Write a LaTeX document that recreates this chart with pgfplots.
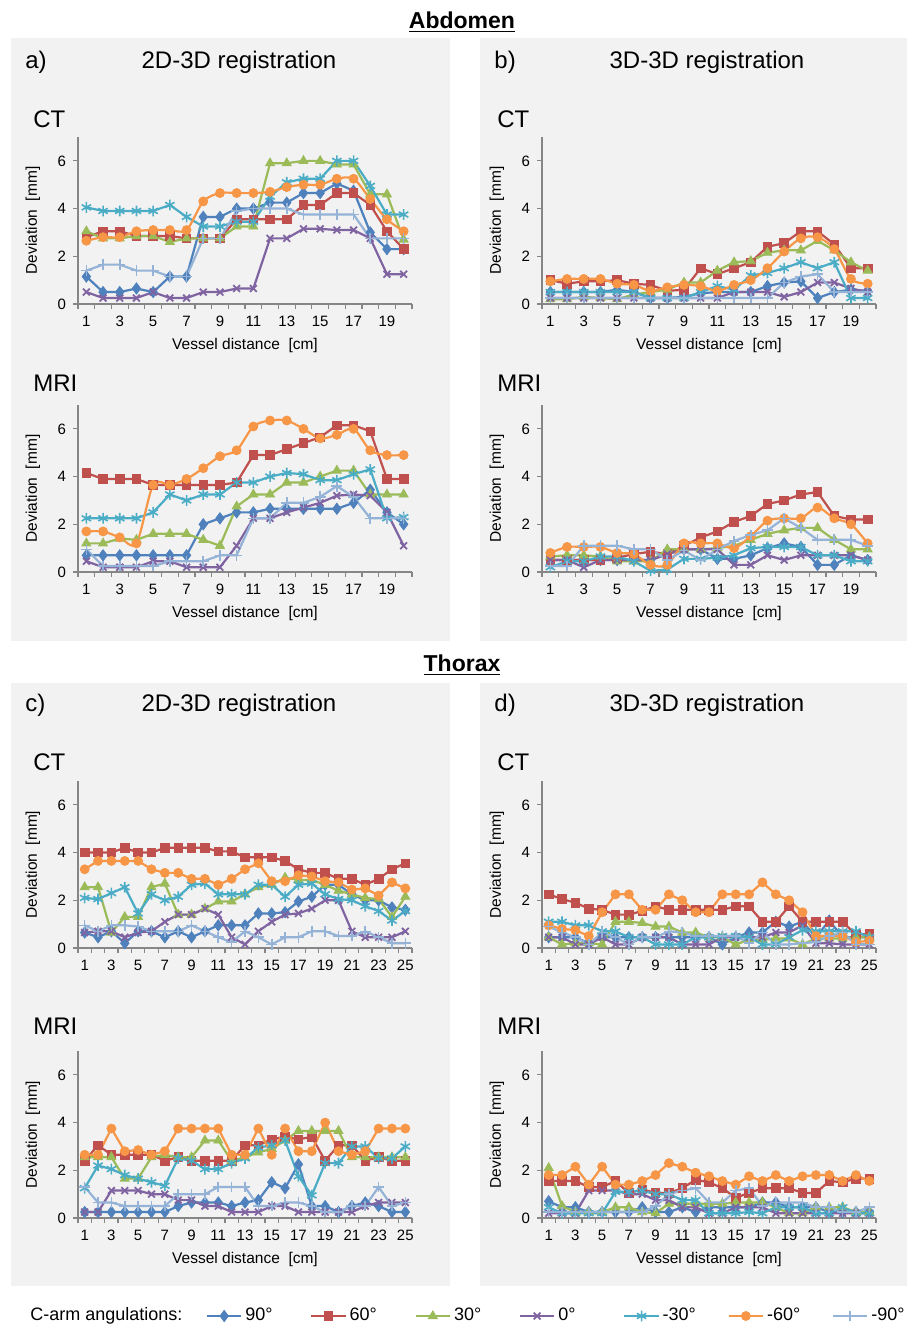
\documentclass[border=0pt]{standalone}
\usepackage{pgfplots}
\pgfplotsset{compat=1.18}
\usepackage{pgfplotstable}
\usepackage{fontspec}
\setmainfont{Liberation Sans}

\definecolor{c90}{HTML}{4F81BD}
\definecolor{c60}{HTML}{C0504D}
\definecolor{c30}{HTML}{9BBB59}
\definecolor{c0}{HTML}{8064A2}
\definecolor{cm30}{HTML}{4BACC6}
\definecolor{cm60}{HTML}{F79646}
\definecolor{cm90}{HTML}{95B3D7}
\definecolor{panel}{HTML}{F2F2F2}
\definecolor{axgray}{HTML}{868686}

% ---------------- data ----------------
\pgfplotstableread{
x d90 d60 d30 d0 m30 m60 m90
1 1.15 2.80 3.05 0.50 4.05 2.65 1.40
2 0.50 3.05 2.75 0.25 3.90 2.80 1.65
3 0.50 3.05 2.75 0.25 3.90 2.80 1.65
4 0.65 2.85 2.85 0.25 3.90 3.05 1.40
5 0.50 2.85 2.85 0.50 3.90 3.10 1.40
6 1.15 2.85 2.60 0.25 4.15 3.10 1.15
7 1.15 2.75 2.75 0.25 3.65 3.10 1.15
8 3.65 2.75 2.75 0.50 3.25 4.30 2.75
9 3.65 2.75 2.75 0.50 3.25 4.65 2.75
10 4.00 3.55 3.25 0.65 3.45 4.65 3.90
11 4.00 3.55 3.25 0.65 3.45 4.65 4.00
12 4.25 3.55 5.90 2.75 4.50 4.70 4.00
13 4.25 3.55 5.90 2.75 5.10 4.90 4.00
14 4.65 4.15 6.00 3.15 5.25 5.00 3.75
15 4.65 4.15 6.00 3.15 5.25 5.00 3.75
16 5.05 4.65 5.85 3.10 6.00 5.25 3.75
17 4.75 4.65 5.85 3.10 6.00 5.25 3.75
18 3.00 4.15 4.60 2.75 4.95 4.40 2.75
19 2.30 3.05 4.60 1.25 3.75 3.55 2.75
20 2.30 2.30 2.70 1.25 3.75 3.05 2.75
}\aCT

\pgfplotstableread{
x d90 d60 d30 d0 m30 m60 m90
1 0.70 4.15 1.20 0.45 2.25 1.70 0.95
2 0.70 3.90 1.20 0.20 2.25 1.70 0.25
3 0.70 3.90 1.40 0.20 2.25 1.45 0.25
4 0.70 3.90 1.35 0.20 2.25 1.20 0.25
5 0.70 3.65 1.60 0.45 2.50 3.65 0.25
6 0.70 3.65 1.60 0.45 3.25 3.65 0.45
7 0.70 3.65 1.60 0.20 3.00 3.90 0.45
8 2.00 3.65 1.35 0.20 3.25 4.35 0.45
9 2.25 3.65 1.10 0.20 3.25 4.85 0.70
10 2.50 3.75 2.75 1.10 3.75 5.10 0.70
11 2.50 4.90 3.25 2.25 3.75 6.10 2.25
12 2.65 4.90 3.25 2.25 4.00 6.35 2.25
13 2.65 5.15 3.75 2.50 4.15 6.35 2.90
14 2.65 5.40 3.75 2.70 4.10 6.00 2.90
15 2.65 5.65 4.00 2.90 3.85 5.60 3.15
16 2.65 6.15 4.25 3.20 3.85 5.75 3.60
17 2.90 6.15 4.25 3.25 4.10 6.00 3.15
18 3.45 5.90 3.25 3.20 4.30 5.10 2.25
19 2.50 3.90 3.25 2.50 2.25 4.90 2.25
20 2.00 3.90 3.25 1.10 2.30 4.90 2.25
}\aMR

\pgfplotstableread{
x d90 d60 d30 d0 m30 m60 m90
1 0.50 1.00 0.20 0.25 0.50 0.95 0.25
2 0.50 0.85 0.20 0.25 0.50 1.05 0.25
3 0.50 0.95 0.30 0.25 0.50 1.05 0.25
4 0.50 0.95 0.25 0.25 0.50 1.05 0.25
5 0.60 1.00 0.20 0.25 0.50 0.85 0.25
6 0.50 0.85 0.40 0.25 0.50 0.80 0.25
7 0.25 0.80 0.50 0.25 0.25 0.55 0.25
8 0.25 0.55 0.60 0.25 0.25 0.70 0.25
9 0.30 0.60 0.90 0.25 0.25 0.80 0.25
10 0.45 1.50 0.90 0.25 0.50 0.75 0.25
11 0.50 1.25 1.40 0.25 0.75 0.55 0.25
12 0.50 1.50 1.75 0.50 0.60 0.80 0.25
13 0.50 1.75 1.80 0.50 1.20 1.00 0.25
14 0.75 2.40 2.15 0.50 1.30 1.50 0.25
15 0.90 2.55 2.25 0.30 1.50 2.20 0.90
16 0.95 3.05 2.25 0.50 1.75 2.75 1.15
17 0.25 3.05 2.65 0.90 1.50 2.80 1.25
18 0.50 2.50 2.25 0.90 1.75 2.30 0.50
19 0.60 1.50 1.75 0.65 0.25 1.05 0.50
20 0.55 1.50 1.40 0.50 0.25 0.85 0.50
}\bCT

\pgfplotstableread{
x d90 d60 d30 d0 m30 m60 m90
1 0.50 0.50 0.65 0.50 0.20 0.80 0.25
2 0.50 0.50 0.70 0.50 0.45 1.05 0.25
3 0.50 0.50 0.70 0.20 0.45 1.05 1.10
4 0.50 0.50 0.65 0.50 0.65 1.05 1.10
5 0.50 0.60 0.45 0.50 0.65 0.80 1.10
6 0.50 0.75 0.45 0.50 0.45 0.75 0.95
7 0.50 0.85 0.45 0.50 0.05 0.30 0.95
8 0.75 0.75 0.95 0.75 0.10 0.30 0.50
9 0.95 1.10 0.95 0.95 0.55 1.20 0.90
10 0.95 1.45 0.95 0.95 0.55 1.20 0.50
11 0.55 1.70 1.00 0.95 0.60 1.20 0.95
12 0.55 2.10 1.10 0.30 0.70 1.00 1.30
13 0.70 2.35 1.35 0.30 1.00 1.50 1.55
14 1.00 2.85 1.60 0.70 1.05 2.15 1.75
15 1.20 3.00 1.75 0.50 1.05 2.25 2.25
16 1.05 3.25 1.85 0.70 1.05 2.25 1.85
17 0.30 3.35 1.85 0.70 0.70 2.70 1.35
18 0.30 2.35 1.35 0.70 0.70 2.25 1.35
19 0.70 2.20 0.95 0.70 0.45 2.00 1.35
20 0.50 2.20 0.95 0.50 0.45 1.20 1.10
}\bMR

\pgfplotstableread{
x d90 d60 d30 d0 m30 m60 m90
1 0.65 4.00 2.55 0.65 2.10 3.30 0.95
2 0.45 4.00 2.55 0.70 2.05 3.65 0.70
3 0.70 4.00 0.65 0.70 2.30 3.65 0.95
4 0.20 4.20 1.30 0.45 2.55 3.65 0.95
5 0.70 4.00 1.30 0.65 1.45 3.65 0.90
6 0.70 4.00 2.55 0.70 2.25 3.30 0.70
7 0.45 4.20 2.70 1.10 2.00 3.15 0.70
8 0.70 4.20 1.40 1.40 2.15 3.15 0.70
9 0.45 4.20 1.40 1.40 2.65 2.90 0.95
10 0.70 4.20 1.65 1.65 2.70 2.90 0.70
11 0.95 4.05 1.95 1.40 2.25 2.65 0.45
12 0.95 4.05 1.95 0.45 2.25 2.90 0.25
13 0.95 3.80 2.25 0.15 2.25 3.30 0.70
14 1.45 3.80 2.55 0.70 2.65 3.55 0.45
15 1.45 3.80 2.65 1.10 2.65 2.80 0.15
16 1.50 3.65 2.95 1.40 2.15 2.80 0.45
17 1.95 3.30 2.85 1.45 2.65 3.05 0.45
18 2.15 3.15 2.85 1.65 2.70 3.00 0.70
19 2.65 3.15 2.65 2.00 2.25 2.80 0.70
20 2.65 2.90 2.40 2.00 2.05 2.75 0.50
21 2.25 2.90 2.25 0.70 2.00 2.45 0.50
22 2.00 2.65 2.10 0.45 1.75 2.50 0.70
23 2.00 2.90 2.05 0.45 1.55 2.20 0.45
24 1.70 3.30 1.30 0.45 1.15 2.75 0.20
25 1.60 3.55 2.15 0.70 1.55 2.50 0.20
}\cCT

\pgfplotstableread{
x d90 d60 d30 d0 m30 m60 m90
1 0.25 2.40 2.55 0.25 1.25 2.65 1.30
2 0.25 3.05 2.55 0.25 2.20 2.65 0.65
3 0.25 2.65 2.55 1.15 2.05 3.75 0.65
4 0.25 2.65 1.65 1.15 1.80 2.80 0.50
5 0.25 2.65 1.65 1.15 1.65 2.85 0.50
6 0.25 2.65 2.55 1.00 1.50 2.65 0.50
7 0.25 2.40 2.65 1.00 1.35 2.80 0.50
8 0.50 2.55 2.55 0.75 2.50 3.75 1.00
9 0.65 2.40 2.55 0.75 2.40 3.75 1.00
10 0.65 2.40 3.25 0.50 2.05 3.75 1.00
11 0.65 2.40 3.25 0.50 2.05 3.75 1.30
12 0.50 2.40 2.40 0.25 2.30 2.65 1.30
13 0.65 3.05 2.55 0.25 2.50 2.65 1.30
14 0.75 3.05 2.75 0.25 2.95 3.75 0.50
15 1.50 3.30 2.90 0.50 3.05 2.65 0.50
16 1.25 3.40 3.25 0.50 3.25 3.75 0.65
17 2.25 3.30 3.65 0.25 1.75 2.80 0.65
18 0.50 3.40 3.65 0.25 0.95 2.80 0.50
19 0.50 2.40 3.65 0.25 2.30 4.00 0.25
20 0.25 3.05 3.65 0.25 2.30 2.80 0.25
21 0.50 3.05 2.55 0.25 3.00 2.65 0.50
22 0.65 2.40 2.55 0.50 3.00 2.80 0.50
23 0.50 2.55 2.55 0.65 2.50 3.75 1.30
24 0.25 2.40 2.55 0.65 2.50 3.75 0.50
25 0.25 2.40 2.55 0.65 3.00 3.75 0.65
}\cMR

\pgfplotstableread{
x d90 d60 d30 d0 m30 m60 m90
1 0.45 2.25 0.45 0.45 1.10 0.95 0.90
2 0.45 2.05 0.15 0.45 1.10 0.80 0.65
3 0.45 1.90 0.20 0.15 0.95 0.75 0.45
4 0.20 1.65 0.20 0.15 0.95 0.50 0.15
5 0.45 1.60 0.15 0.45 0.70 1.50 0.65
6 0.45 1.40 1.10 0.15 0.70 2.25 0.45
7 0.45 1.40 1.10 0.15 0.45 2.25 0.15
8 0.45 1.55 1.05 0.45 0.45 1.60 0.45
9 0.45 1.75 0.90 0.45 0.15 1.60 0.45
10 0.45 1.60 0.90 0.45 0.15 2.25 0.70
11 0.45 1.60 0.65 0.15 0.15 2.00 0.65
12 0.45 1.60 0.65 0.15 0.45 1.50 0.50
13 0.45 1.60 0.45 0.15 0.45 1.50 0.50
14 0.15 1.60 0.45 0.45 0.50 2.25 0.50
15 0.45 1.75 0.15 0.45 0.50 2.25 0.50
16 0.65 1.75 0.35 0.45 0.45 2.25 0.20
17 0.65 1.10 0.35 0.45 0.15 2.75 0.65
18 1.10 1.10 0.40 0.65 0.15 2.25 0.15
19 0.90 1.75 0.40 0.65 0.45 2.00 0.15
20 1.10 1.10 0.15 0.95 0.75 1.50 0.20
21 0.45 1.10 0.40 0.20 0.70 0.50 0.25
22 1.15 1.10 0.40 0.20 0.70 0.50 0.50
23 0.45 1.10 0.40 0.15 0.70 0.50 0.65
24 0.45 0.55 0.45 0.15 0.70 0.25 0.15
25 0.45 0.60 0.45 0.15 0.45 0.30 0.15
}\dCT

\pgfplotstableread{
x d90 d60 d30 d0 m30 m60 m90
1 0.70 1.55 2.10 0.20 0.45 1.80 0.25
2 0.45 1.55 0.50 0.20 0.20 1.80 0.25
3 0.45 1.55 0.25 0.20 0.20 2.15 0.25
4 0.25 1.30 0.25 1.15 0.20 1.40 0.25
5 0.25 1.30 0.25 1.15 0.20 2.15 0.25
6 0.25 1.55 0.45 1.15 1.10 1.40 0.25
7 0.25 1.05 0.45 1.00 1.10 1.40 0.25
8 0.45 1.20 0.25 1.00 1.15 1.55 0.25
9 0.25 1.05 0.20 0.75 1.00 1.80 0.50
10 0.25 1.05 0.60 0.75 1.00 2.30 1.00
11 0.45 1.25 0.60 0.45 0.75 2.15 1.15
12 0.25 1.60 0.60 0.45 0.75 1.90 1.25
13 0.45 1.50 0.60 0.20 0.20 1.75 0.65
14 0.45 1.25 0.60 0.20 0.20 1.55 0.65
15 0.45 0.85 0.65 0.45 0.20 1.40 1.15
16 0.45 1.05 0.65 0.45 0.25 1.75 1.25
17 0.65 1.25 0.65 0.45 0.20 1.55 0.50
18 0.65 1.25 0.45 0.20 0.45 1.80 0.65
19 0.45 1.25 0.20 0.20 0.45 1.55 0.65
20 0.45 1.05 0.20 0.20 0.45 1.75 0.65
21 0.45 1.05 0.45 0.20 0.20 1.80 0.45
22 0.25 1.55 0.45 0.20 0.20 1.80 0.45
23 0.25 1.50 0.45 0.20 0.45 1.55 0.25
24 0.25 1.65 0.25 0.20 0.20 1.80 0.25
25 0.25 1.65 0.25 0.20 0.20 1.55 0.45
}\dMR

% ---------------- styles ----------------
\pgfplotsset{
  ser/.style={line width=1.1pt},
  s90/.style={ser, c90, mark=diamond*, mark size=2.8pt, mark options={solid, line width=0.4pt, fill=c90}},
  s60/.style={ser, c60, mark=square*, mark size=2.15pt, mark options={solid, line width=0.4pt, fill=c60}},
  s30/.style={ser, c30, mark=triangle*, mark size=2.6pt, mark options={solid, line width=0.4pt, fill=c30}},
  s0/.style={ser, c0, mark=x, mark size=2.4pt, mark options={solid, line width=0.9pt}},
  sm30/.style={ser, cm30, mark=asterisk, mark size=2.7pt, mark options={solid, line width=0.8pt}},
  sm60/.style={ser, cm60, mark=*, mark size=2.25pt, mark options={solid, line width=0.4pt, fill=cm60}},
  sm90/.style={ser, cm90, mark=+, mark size=2.7pt, mark options={solid, line width=0.8pt}},
  dev/.style={
    scale only axis, width=167pt, height=83.5pt,
    anchor=south west,
    xmin=0.5, ymin=0, ymax=7,
    axis x line*=bottom, axis y line*=left,
    axis line style={axgray, line width=0.6pt},
    tick align=outside,
    ytick={0,2,4,6},
    major tick length=2.5pt, minor tick length=2.5pt,
    tick style={axgray, line width=0.6pt},
    major x tick style={draw=none},
    /pgf/number format/assume math mode=true,
    tick label style={font=\fontsize{7.5}{9}\selectfont, text=black},
    ylabel={Deviation\ \ [mm]},
    ylabel style={font=\fontsize{7.75}{9}\selectfont, at={(axis description cs:-0.135,0.5)}, anchor=center},
    clip=false,
  },
  abd/.style={dev, xmax=20.5, xtick={1,3,...,19}, minor xtick={0.5,1.5,...,20.5}},
  tho/.style={dev, xmax=25.5, xtick={1,3,...,25}, minor xtick={0.5,1.5,...,25.5}},
  xl/.style={xlabel={Vessel distance\ \ [cm]},
    xlabel style={font=\fontsize{7.75}{9}\selectfont, at={(axis description cs:0.5,0)}, yshift=-20.5pt, anchor=center}},
}

\newcommand\allseries[2][]{%
  \addplot[s90] table[x=x,y=d90]{#2};
  \addplot[s60] table[x=x,y=d60]{#2};
  \addplot[s30] table[x=x,y=d30]{#2};
  \addplot[s0] table[x=x,y=d0]{#2};
  \addplot[sm30] table[x=x,y=m30]{#2};
  \addplot[sm60,#1] table[x=x,y=m60]{#2};
  \addplot[sm90] table[x=x,y=m90]{#2};
}

\newcommand\ttl{\fontsize{12}{14}\selectfont}

\begin{document}
\begin{tikzpicture}
\path[use as bounding box] (0,0) rectangle (454pt,-663.5pt);

% panels
\fill[panel] (5.5pt,-19pt) rectangle (225pt,-320.5pt);
\fill[panel] (240pt,-19pt) rectangle (453.5pt,-320.5pt);
\fill[panel] (5.5pt,-341.5pt) rectangle (225pt,-643pt);
\fill[panel] (240pt,-341.5pt) rectangle (453.5pt,-643pt);

\node[font=\bfseries\fontsize{11.5}{13}\selectfont] at (231pt,-11pt) {\underline{Abdomen}};
\node[font=\bfseries\fontsize{11.5}{13}\selectfont] at (231pt,-332.5pt) {\underline{Thorax}};

\tikzset{lab/.style={font=\ttl, anchor=west, inner xsep=0pt}}
\node[lab] at (12.5pt,-31pt) {a)};
\node[font=\ttl] at (119.5pt,-31pt) {2D-3D registration};
\node[lab] at (16.5pt,-59.5pt) {CT};
\node[lab] at (16.5pt,-191.5pt) {MRI};

\node[lab] at (247pt,-31pt) {b)};
\node[font=\ttl] at (353.5pt,-31pt) {3D-3D registration};
\node[lab] at (248.5pt,-59.5pt) {CT};
\node[lab] at (248.5pt,-191.5pt) {MRI};

\node[lab] at (12.5pt,-352.5pt) {c)};
\node[font=\ttl] at (119.5pt,-352.5pt) {2D-3D registration};
\node[lab] at (16.5pt,-381pt) {CT};
\node[lab] at (16.5pt,-513pt) {MRI};

\node[lab] at (247pt,-352.5pt) {d)};
\node[font=\ttl] at (353.5pt,-352.5pt) {3D-3D registration};
\node[lab] at (248.5pt,-381pt) {CT};
\node[lab] at (248.5pt,-513pt) {MRI};

% a
\begin{axis}[abd, xl, at={(39pt,-152pt)}]
\allseries[smooth]{\aCT}
\end{axis}
\begin{axis}[abd, xl, at={(39pt,-286pt)}]
\allseries[smooth]{\aMR}
\end{axis}
% b
\begin{axis}[abd, xl, at={(271pt,-152pt)}]
\allseries[smooth]{\bCT}
\end{axis}
\begin{axis}[abd, xl, at={(271pt,-286pt)}]
\allseries[smooth]{\bMR}
\end{axis}
% c
\begin{axis}[tho, at={(39pt,-474pt)}]
\allseries{\cCT}
\end{axis}
\begin{axis}[tho, xl, at={(39pt,-609pt)}]
\allseries{\cMR}
\end{axis}
% d
\begin{axis}[tho, at={(271pt,-474pt)}]
\allseries{\dCT}
\end{axis}
\begin{axis}[tho, xl, at={(271pt,-609pt)}]
\allseries{\dMR}
\end{axis}

% legend
\node[font=\fontsize{9}{10}\selectfont, anchor=west, inner xsep=0pt] at (15pt,-658pt) {C-arm angulations:};
\begin{axis}[hide axis, scale only axis, width=10pt, height=10pt,
  xmin=0, xmax=1, ymin=0, ymax=1,
  at={(103pt,-658pt)}, anchor=west,
  legend columns=-1,
  legend style={at={(0,0.5)}, anchor=west, draw=none, fill=none,
    inner sep=0pt, outer sep=0pt, font=\fontsize{9}{10}\selectfont,
    column sep=0pt,
    nodes={inner xsep=1.5pt, text width=31pt, align=left}}]
\addlegendimage{s90}\addlegendentry{90°}
\addlegendimage{s60}\addlegendentry{60°}
\addlegendimage{s30}\addlegendentry{30°}
\addlegendimage{s0}\addlegendentry{0°}
\addlegendimage{sm30}\addlegendentry{-30°}
\addlegendimage{sm60}\addlegendentry{-60°}
\addlegendimage{sm90}\addlegendentry{-90°}
\end{axis}
\end{tikzpicture}
\end{document}
